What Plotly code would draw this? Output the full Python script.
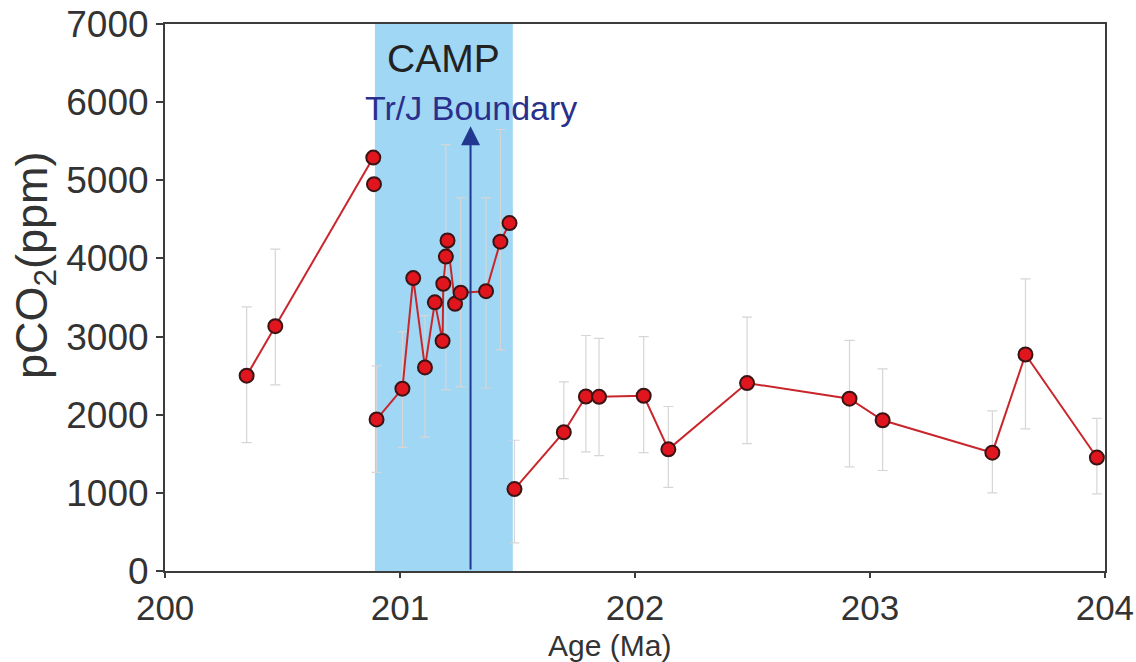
import plotly.graph_objects as go

# ---- data ----
age = [200.347, 200.469, 200.886, 200.889, 200.900, 201.010, 201.056, 201.106, 201.148,
       201.181, 201.184, 201.195, 201.202, 201.234, 201.258, 201.366, 201.427, 201.466,
       201.487, 201.697, 201.791, 201.847, 202.037, 202.142, 202.477, 202.913, 203.054,
       203.521, 203.662, 203.966]
pco2 = [2500, 3133, 5290, 4950, 1940, 2333, 3748, 2605, 3438,
        2943, 3676, 4024, 4229, 3419, 3562, 3581, 4214, 4452,
        1048, 1776, 2233, 2229, 2243, 1557, 2405, 2205, 1929,
        1514, 2771, 1452]
# line segment each point belongs to (None = unconnected point)
segment = [1, 1, 1, None, 2, 2, 2, 2, 2,
           2, 2, 2, 2, 2, 2, 2, 2, 2,
           3, 3, 3, 3, 3, 3, 3, 3, 3,
           3, 3, 3]
err_upper = [3381, 4119, None, None, 2625, 3063, None, 3269, None,
             None, None, 5457, None, None, 4775, 4775, 5650, None,
             1673, 2419, 3014, 2976, 3000, 2105, 3248, 2952, 2586,
             2048, 3738, 1952]
err_lower = [1643, 2381, None, None, 1261, 1583, None, 1712, None,
             None, None, 2317, None, None, 2355, 2342, 2831, None,
             360, 1181, 1524, 1476, 1514, 1071, 1629, 1333, 1286,
             1000, 1819, 986]

CAMP_START, CAMP_END = 200.893, 201.48
BOUNDARY_AGE = 201.30
ARROW_TOP = 5690
x_ticks = [200, 201, 202, 203, 204]
y_ticks = [0, 1000, 2000, 3000, 4000, 5000, 6000, 7000]

LINE_RED = "#c9262c"
MARK_RED = "#e0151d"
MARK_EDGE = "#3a1414"
AXIS_COL = "#3c3c3c"
TEXT_COL = "#333333"
FONT = "Liberation Sans, Arial, sans-serif"

fig = go.Figure()

# CAMP band
fig.add_vrect(x0=CAMP_START, x1=CAMP_END, fillcolor="#9fd7f5", opacity=1,
              line_width=0, layer="below")

# error bars
eb_idx = [i for i in range(len(age)) if err_upper[i] is not None]
fig.add_trace(go.Scatter(
    x=[age[i] for i in eb_idx], y=[pco2[i] for i in eb_idx], mode="markers",
    marker=dict(size=1, opacity=0),
    error_y=dict(type="data", symmetric=False,
                 array=[err_upper[i] - pco2[i] for i in eb_idx],
                 arrayminus=[pco2[i] - err_lower[i] for i in eb_idx],
                 color="#d6d6d6", thickness=1.2, width=5),
    showlegend=False, hoverinfo="skip"))

# lines per segment
for seg in sorted(set(s for s in segment if s is not None)):
    idx = [i for i in range(len(age)) if segment[i] == seg]
    fig.add_trace(go.Scatter(x=[age[i] for i in idx], y=[pco2[i] for i in idx],
                             mode="lines", line=dict(color=LINE_RED, width=2),
                             showlegend=False))

# markers
fig.add_trace(go.Scatter(x=age, y=pco2, mode="markers",
                         marker=dict(size=14, color=MARK_RED,
                                     line=dict(color=MARK_EDGE, width=2)),
                         showlegend=False))

# Tr/J boundary arrow
fig.add_annotation(x=BOUNDARY_AGE, y=ARROW_TOP, ax=BOUNDARY_AGE, ay=0,
                   xref="x", yref="y", axref="x", ayref="y",
                   showarrow=True, arrowhead=2, arrowsize=1.9, arrowwidth=2,
                   arrowcolor="#22378f", text="")
fig.add_annotation(x=BOUNDARY_AGE, y=5930, xref="x", yref="y", text="Tr/J Boundary",
                   showarrow=False, font=dict(family=FONT, size=34, color="#2b2f8c"))
fig.add_annotation(x=(CAMP_START + CAMP_END) / 2, y=6560, xref="x", yref="y", text="CAMP",
                   showarrow=False, font=dict(family=FONT, size=39, color="#222222"))

# axis titles
fig.add_annotation(x=201.89, y=-0.136, xref="x", yref="paper", text="Age (Ma)",
                   showarrow=False, yanchor="middle", borderpad=0,
                   font=dict(family=FONT, size=30, color=TEXT_COL))
fig.add_annotation(x=-0.139, y=0.56, xref="paper", yref="paper",
                   text="pCO<sub>2</sub>(ppm)", textangle=-90, showarrow=False,
                   xanchor="center", yanchor="middle",
                   font=dict(family=FONT, size=45, color=TEXT_COL))

fig.update_xaxes(range=[199.9995, 204.0005], tickvals=x_ticks, ticktext=[str(v) for v in x_ticks],
                 showline=True, linecolor=AXIS_COL, linewidth=2, mirror=True,
                 ticks="outside", ticklen=5, tickwidth=2, tickcolor=AXIS_COL,
                 showgrid=False, zeroline=False, automargin=False,
                 ticklabeloverflow="allow",
                 tickfont=dict(family=FONT, size=35, color=TEXT_COL))
fig.update_yaxes(range=[0, 7000], tickvals=y_ticks,
                 showline=True, linecolor=AXIS_COL, linewidth=2, mirror=True,
                 ticks="outside", ticklen=7, tickwidth=2, tickcolor=AXIS_COL,
                 showgrid=False, zeroline=False, automargin=False,
                 ticklabeloverflow="allow",
                 tickfont=dict(family=FONT, size=37, color=TEXT_COL))

fig.update_layout(width=1136, height=662, margin=dict(l=165, r=31, t=24, b=91, autoexpand=False),
                  plot_bgcolor="white", paper_bgcolor="white", showlegend=False)

fig.write_html("out.html", config={"displayModeBar": False},
               post_script="document.body.style.margin='0px';document.body.style.overflow='hidden';")
